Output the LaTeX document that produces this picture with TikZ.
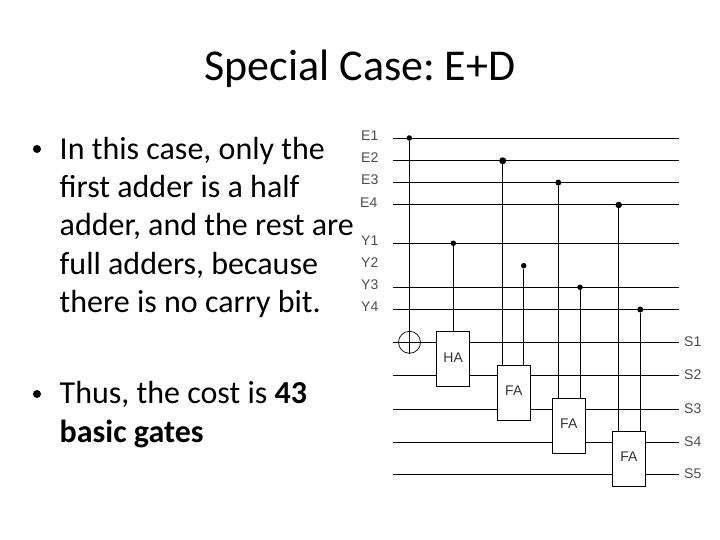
\documentclass[tikz,border=0pt]{standalone}
\usepackage{fontspec}
\setmainfont{Carlito}
\newfontfamily\wirefont{Liberation Sans}
\frenchspacing
\begin{document}
\begin{tikzpicture}[x=1pt, y=-1pt,
		wire/.style={line width=0.9pt},
		dot/.style={circle, fill=black, inner sep=0pt, minimum size=5pt},
		adder/.style={draw, fill=white, line width=0.9pt, minimum width=33pt, minimum height=55pt, inner sep=0pt},
		addertext/.style={inner sep=0pt, text=black!80, font=\wirefont\fontsize{14}{14}\selectfont},
		wirelabel/.style={anchor=west, inner sep=0pt, text=black!70, font=\wirefont\fontsize{14}{14}\selectfont},
		bullet/.style={circle, fill=black, inner sep=0pt, minimum size=8pt},
		bodytext/.style={anchor=north west, align=left, inner sep=0pt, font=\fontsize{32}{38.2}\selectfont}]
	\useasboundingbox (0,0) rectangle (720,540);

	% Title
	\node[inner sep=0pt, anchor=base, font=\fontsize{44}{44}\selectfont] (title) at (360,81) {Special Case: E+D};

	% Bullets
	\node[bullet] (bulletA) at (37,149) {};
	\node[bodytext] (textA) at (59.5,137) {In this case, only the\\first adder is a half\\adder, and the rest are\\full adders, because\\there is no carry bit.};
	\node[bullet] (bulletB) at (37,394) {};
	\node[bodytext] (textB) at (59.5,381.5) {Thus, the cost is \textbf{43}\\\textbf{basic gates}};

	% Input wires with their labels
	\foreach \name/\ypos in {E1/138, E2/160.3, E3/182.3, E4/204.3, Y1/243.3, Y3/287.3, Y4/309.5} {
		\coordinate (\name start) at (393,\ypos);
		\coordinate (\name end) at (679,\ypos);
		\draw[wire] (\name start) -- (\name end);
	}
	\foreach \name/\xpos/\ypos in {E1/361/136, E2/361/158, E3/361/180, E4/360/203, Y1/361/241, Y2/361/263, Y3/361/285, Y4/361/307} {
		\node[wirelabel] (label\name) at (\xpos,\ypos) {\name};
	}

	% Sum wires with their labels
	\foreach \name/\ypos in {S1/342.3, S2/375.3, S3/409.3, S4/442.3, S5/474.3} {
		\coordinate (\name start) at (393,\ypos);
		\coordinate (\name end) at (679,\ypos);
		\draw[wire] (\name start) -- (\name end);
		\node[wirelabel] (label\name) at (684,\ypos-1) {\name};
	}

	% Adders
	\node[adder] (ha) at (453.2,359) {};
	\node[adder] (faA) at (513.8,392.8) {};
	\node[adder] (faB) at (568.8,425.8) {};
	\node[adder] (faC) at (629,458.7) {};
	\node[addertext] (textha) at (453.2,357.6) {HA};
	\node[addertext] (textfaA) at (513.8,390.4) {FA};
	\node[addertext] (textfaB) at (568.8,423.6) {FA};
	\node[addertext] (textfaC) at (629,456.6) {FA};

	% Circle on the first wire
	\node[draw, circle, line width=0.7pt, minimum size=22pt, inner sep=0pt] (carry) at (409.5,342.3) {};

	% Dots
	\foreach \name/\xpos/\ypos/\size in {E1/409.3/138/5.5, Y1/453.3/243.3/5.5, E2/502.7/160.8/7, Y2/523.7/265.7/5.5, E3/558.3/182.6/6, Y3/580/287.3/5.5, E4/618.7/205/6.5, Y4/640.3/309.5/6} {
		\node[dot, minimum size=\size pt] (dot\name) at (\xpos,\ypos) {};
	}

	% Verticals from the dots down to the adders
	\draw[wire] (dotE1) -- (carry.south -| dotE1);
	\draw[wire] (dotY1) -- (dotY1 |- ha.north);
	\draw[wire] (dotE2) -- (dotE2 |- faA.north);
	\draw[wire] (dotY2) -- (dotY2 |- faA.north);
	\draw[wire] (dotE3) -- (dotE3 |- faB.north);
	\draw[wire] (dotY3) -- (dotY3 |- faB.north);
	\draw[wire] (dotE4) -- (dotE4 |- faC.north);
	\draw[wire] (dotY4) -- (dotY4 |- faC.north);
\end{tikzpicture}
\end{document}
